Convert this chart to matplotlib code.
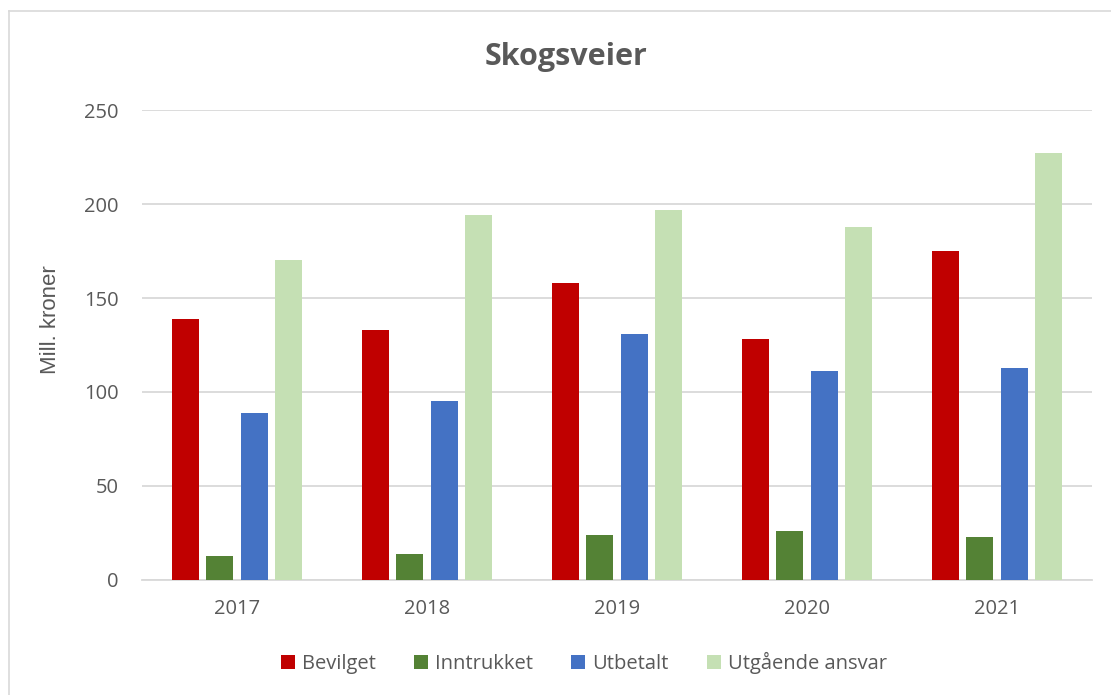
import matplotlib.pyplot as plt
import numpy as np
from matplotlib.lines import Line2D

# Data
years = ["2017", "2018", "2019", "2020", "2021"]
bevilget = [139, 133, 158, 128, 175]
inntrukket = [13, 14, 24, 26, 23]
utbetalt = [89, 95, 131, 111, 113]
utgaende = [170, 194, 197, 188, 227]

series_names = ["Bevilget", "Inntrukket", "Utbetalt", "Utgående ansvar"]
series_values = [bevilget, inntrukket, utbetalt, utgaende]
colors = ["#C00000", "#548235", "#4472C4", "#C5E0B4"]

text_color = "#595959"
plt.rcParams['font.family'] = ['Open Sans', 'DejaVu Sans']

fig = plt.figure(figsize=(11.11, 6.95), dpi=100)
ax = fig.add_axes([0.1278, 0.1655, 0.8551, 0.6762])

x = np.arange(len(years))
width = 0.1437
pitch = 0.181
offsets = [-1.5 * pitch, -0.5 * pitch, 0.5 * pitch, 1.5 * pitch]

for name, vals, col, off in zip(series_names, series_values, colors, offsets):
    ax.bar(x + off, vals, width, color=col, label=name, zorder=3)

ax.set_xlim(-0.5, len(years) - 0.5)
ax.set_ylim(0, 250)
ax.set_yticks(range(0, 251, 50))
ax.set_xticks(x)
ax.set_xticklabels(years)
ax.yaxis.grid(True, color="#D9D9D9", linewidth=1.3, zorder=0)
ax.tick_params(axis='both', length=0, labelsize=14.5, colors=text_color)
ax.tick_params(axis='x', pad=14)
ax.tick_params(axis='y', pad=17)
for side in ["top", "right", "left"]:
    ax.spines[side].set_visible(False)
ax.spines["bottom"].set_color("#D9D9D9")
ax.spines["bottom"].set_linewidth(1.3)

ax.set_ylabel("Mill. kroner", fontsize=16, color=text_color,
              family=['Liberation Sans', 'DejaVu Sans'])
ax.yaxis.set_label_coords(-0.0853, 0.553)
fig.text(0.5095, 0.918, "Skogsveier", ha="center", va="center",
         fontsize=22, fontweight="bold", color=text_color)

fig.legend(*ax.get_legend_handles_labels(), loc="center",
           bbox_to_anchor=(584 / 1111, 1 - 663 / 695),
           ncol=4, frameon=False, fontsize=14.5, handlelength=0.7,
           handleheight=0.7, handletextpad=0.35, columnspacing=1.9,
           labelcolor=text_color)

# thin chart-area border (left and top edges visible)
fig.add_artist(Line2D([9 / 1111, 9 / 1111], [0, 1 - 11 / 695], color="#D9D9D9", lw=1.2))
fig.add_artist(Line2D([9 / 1111, 1], [1 - 11 / 695, 1 - 11 / 695], color="#D9D9D9", lw=1.2))

fig.savefig("out.png", dpi=100)
